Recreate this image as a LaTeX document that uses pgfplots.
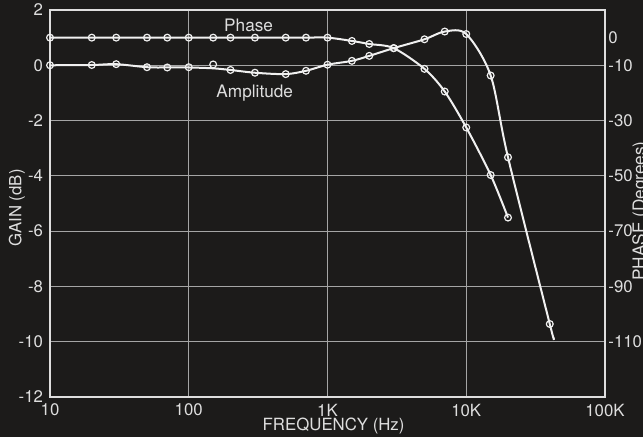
\documentclass[border=0pt]{standalone}
\usepackage{fontspec}
\setmainfont{TeX Gyre Heros}
\usepackage{pgfplots}
\usepackage{pgfplotstable}
\pgfplotsset{compat=1.18}
\definecolor{bg}{RGB}{28,27,26}
\definecolor{fg}{RGB}{222,222,222}
\definecolor{gridc}{RGB}{165,165,165}
\definecolor{curve}{RGB}{240,240,240}

% Amplitude (dB): gl = line, gm = marker
\pgfplotstableread{
f gl gm
10 0.00 0.00
20 0.01 0.01
30 0.04 0.04
50 -0.07 -0.07
70 -0.08 -0.08
100 -0.08 -0.07
150 -0.11 0.03
200 -0.17 -0.17
300 -0.27 -0.27
500 -0.32 -0.32
700 -0.20 -0.20
1000 0.02 0.02
1500 0.16 0.16
2000 0.34 0.34
3000 0.62 0.62
5000 0.94 0.94
7000 1.22 1.22
10000 1.13 1.13
15000 -0.37 -0.37
20000 -3.33 -3.33
40000 -9.36 -9.36
42500 -9.83 nan
}\ampdata

% Phase (degrees)
\pgfplotstableread{
f p
10 0
20 0
30 0
50 0
70 0
100 0
150 0
200 0
300 0
500 0
700 0
1000 0
1500 -1.2
2000 -2.3
3000 -3.8
5000 -11.3
7000 -19.5
10000 -32.5
15000 -49.7
20000 -65.1
}\phasedata

\begin{document}
\begin{tikzpicture}[x=1pt,y=1pt]
\fill[bg] (0,0) rectangle (321.5,218.5);
\useasboundingbox (0,0) rectangle (321.5,218.5);
\begin{axis}[
  at={(25pt,20pt)}, anchor=south west,
  scale only axis, width=277.5pt, height=193.5pt,
  xmode=log, xmin=10, xmax=100000,
  ymin=-12, ymax=2,
  tick label style={text=fg, font=\fontsize{8.4}{10}\selectfont},
  minor tick length=0pt,
  axis line style={fg, line width=1pt},
  xtick={10,100,1000,10000,100000},
  xticklabels={10,100,1K,10K,100K},
  ytick={-12,-10,-8,-6,-4,-2,0,2},
  yticklabels={-12,-10,-8,-6,-4,-2,0,2},
  major tick length=0pt,
  grid=major,
  major grid style={gridc, line width=0.5pt},
  ytick pos=left, xtick pos=bottom,
  clip=false,
]
\addplot[curve, line width=1pt, smooth, tension=0.5] table[x=f, y=gl] {\ampdata};
\addplot[only marks, mark=o, mark size=1.7pt, mark options={draw=curve, fill=bg, line width=0.6pt}]
  table[x=f, y=gm] {\ampdata};
\node[text=fg, font=\fontsize{8.6}{10}\selectfont] at (axis cs:270,1.45) {Phase};
\node[text=fg, font=\fontsize{8.6}{10}\selectfont] at (axis cs:299,-1.0) {Amplitude};
\end{axis}
\begin{axis}[
  at={(25pt,20pt)}, anchor=south west,
  scale only axis, width=277.5pt, height=193.5pt,
  xmode=log, xmin=10, xmax=100000,
  ymin=-130, ymax=10,
  tick label style={text=fg, font=\fontsize{8.4}{10}\selectfont},
  minor tick length=0pt,
  hide x axis,
  axis y line*=right,
  y axis line style={fg, line width=1pt},
  ytick={0,-10,-30,-50,-70,-90,-110},
  yticklabels={0,-10,-30,-50,-70,-90,-110},
  yticklabel style={xshift=-1.8pt},
  major tick length=0pt,
]
\addplot[curve, line width=1pt, smooth, tension=0.5,
  mark=o, mark size=1.7pt, mark options={draw=curve, fill=bg, line width=0.6pt, solid}]
  table[x=f, y=p] {\phasedata};
\end{axis}
\node[text=fg, rotate=90, font=\fontsize{8.4}{10}\selectfont] at (8.5,114.5) {GAIN (dB)};
\node[text=fg, font=\fontsize{8.4}{10}\selectfont] at (166.8,5.5) {FREQUENCY (Hz)};
\node[text=fg, rotate=90, anchor=base, font=\fontsize{8.6}{10}\selectfont] at (322.5,113) {PHASE (Degrees)};
\end{tikzpicture}
\end{document}
